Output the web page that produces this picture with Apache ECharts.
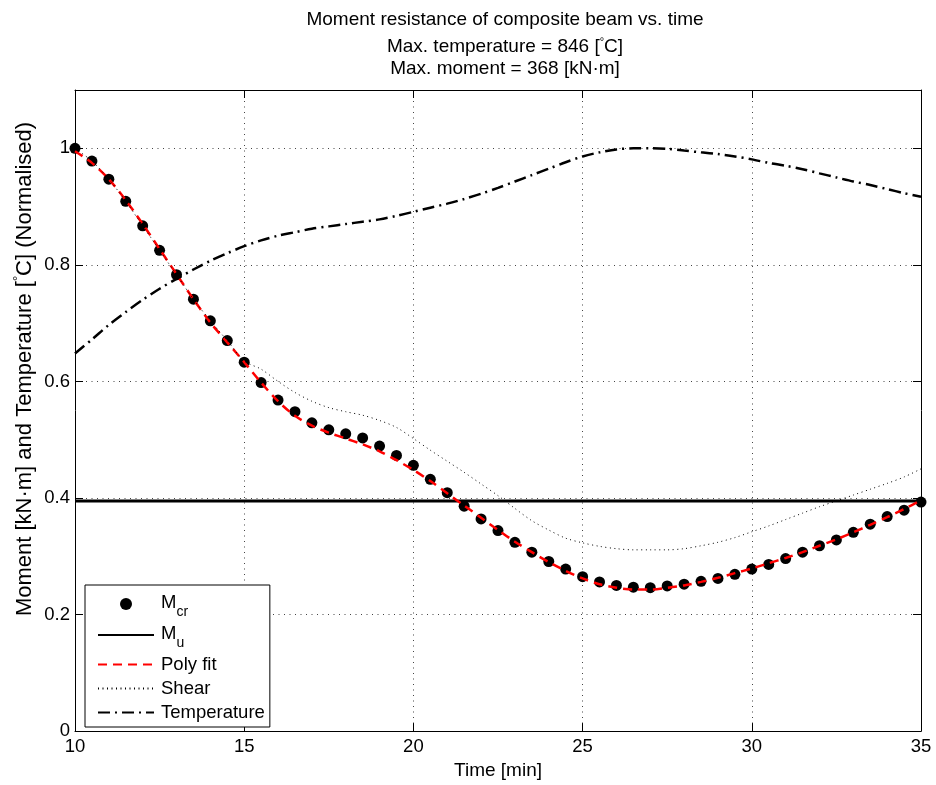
<!DOCTYPE html>
<html>
<head>
<meta charset="utf-8">
<script src="https://cdn.jsdelivr.net/npm/echarts@6/dist/echarts.min.js"></script>
<style>
  html, body { margin: 0; padding: 0; background: #fff; }
  #chart { width: 936px; height: 785px; }
</style>
</head>
<body>
<div id="chart"></div>
<script>
// time axis [min]
const time = [10, 10.5, 11, 11.5, 12, 12.5, 13, 13.5, 14, 14.5, 15, 15.5, 16, 16.5, 17, 17.5, 18, 18.5, 19, 19.5,
  20, 20.5, 21, 21.5, 22, 22.5, 23, 23.5, 24, 24.5, 25, 25.5, 26, 26.5, 27, 27.5, 28, 28.5, 29, 29.5,
  30, 30.5, 31, 31.5, 32, 32.5, 33, 33.5, 34, 34.5, 35]

// normalised critical moment (markers)
const mcr = [1.000, 0.978, 0.947, 0.909, 0.867, 0.825, 0.783, 0.741, 0.704, 0.670, 0.633, 0.598, 0.568, 0.548, 0.529, 0.517, 0.510, 0.503, 0.489, 0.473,
  0.456, 0.432, 0.409, 0.386, 0.364, 0.344, 0.324, 0.307, 0.291, 0.278, 0.265, 0.256, 0.250, 0.247, 0.246, 0.249, 0.252, 0.257, 0.262, 0.269,
  0.278, 0.286, 0.296, 0.307, 0.318, 0.328, 0.341, 0.355, 0.368, 0.379, 0.393]

// polynomial fit
const polyFit = [0.995, 0.975, 0.947, 0.911, 0.870, 0.827, 0.784, 0.741, 0.701, 0.667, 0.633, 0.598, 0.566, 0.541, 0.524, 0.512, 0.502, 0.492, 0.480, 0.465,
  0.448, 0.429, 0.408, 0.387, 0.366, 0.345, 0.325, 0.307, 0.290, 0.275, 0.262, 0.252, 0.246, 0.243, 0.243, 0.246, 0.250, 0.256, 0.263, 0.271,
  0.279, 0.288, 0.297, 0.307, 0.318, 0.329, 0.341, 0.354, 0.367, 0.381, 0.396]

// shear resistance
const shear = [1.000, 0.978, 0.947, 0.909, 0.867, 0.825, 0.783, 0.741, 0.704, 0.670, 0.635, 0.621, 0.600, 0.581, 0.566, 0.555, 0.548, 0.542, 0.533, 0.521,
  0.502, 0.482, 0.463, 0.444, 0.424, 0.404, 0.382, 0.361, 0.345, 0.331, 0.323, 0.317, 0.313, 0.311, 0.311, 0.311, 0.313, 0.318, 0.324, 0.332,
  0.342, 0.352, 0.363, 0.374, 0.385, 0.395, 0.405, 0.415, 0.425, 0.436, 0.450]

// normalised temperature
const temperature = [0.648, 0.672, 0.697, 0.719, 0.740, 0.759, 0.776, 0.792, 0.807, 0.820, 0.832, 0.842, 0.850, 0.856, 0.862, 0.866, 0.870, 0.874, 0.878, 0.884,
  0.891, 0.898, 0.905, 0.913, 0.922, 0.932, 0.943, 0.954, 0.965, 0.976, 0.986, 0.993, 0.998, 1.000, 1.000, 0.999, 0.996, 0.993, 0.990, 0.986,
  0.981, 0.975, 0.970, 0.964, 0.957, 0.950, 0.943, 0.937, 0.930, 0.923, 0.917]

// ultimate moment (horizontal line)
const muTime = [10, 35]
const muValue = [0.395, 0.395]

const FONT = 'Liberation Sans'
const FS = 18.5
const pair = (xs, ys) => xs.map((x, i) => [x, ys[i]])

const chart = echarts.init(document.getElementById('chart'))

const baseText = { fontFamily: FONT, fontSize: FS, color: '#000' }
const supStyle = { fontFamily: FONT, fontSize: 11, color: '#000', verticalAlign: 'top', lineHeight: 22 }

const axisCommon = {
  axisLine: { show: true, onZero: false, lineStyle: { color: '#000', width: 1 } },
  axisTick: { show: true, inside: true, length: 8, lineStyle: { color: '#000' } },
  axisLabel: { ...baseText, margin: 6 }
}
const gridLine = { show: true, lineStyle: { color: '#444', width: 1, type: [1, 4.5] } }
const hideSymbol = { opacity: 0 }

chart.setOption({
  animation: false,
  backgroundColor: '#fff',
  title: [
    { text: 'Moment resistance of composite beam vs. time', left: 500, top: 5, textAlign: 'center',
      textStyle: { ...baseText, fontSize: 19, fontWeight: 'normal' } },
    { text: 'Max. temperature = 846 [{sup|°}C]', left: 500, top: 31, textAlign: 'center',
      textStyle: { ...baseText, fontSize: 19, fontWeight: 'normal', rich: { sup: supStyle } } },
    { text: 'Max. moment = 368 [kN·m]', left: 500, top: 54, textAlign: 'center',
      textStyle: { ...baseText, fontSize: 19, fontWeight: 'normal' } }
  ],
  // y axis title, placed by hand as in the original figure
  graphic: [
    { type: 'text', x: 25, y: 369, rotation: Math.PI / 2,
      style: { text: 'Moment [kN·m] and Temperature [{sup|°}C] (Normalised)', fill: '#000',
        font: '22px ' + FONT, align: 'center', verticalAlign: 'middle',
        rich: { sup: { fontFamily: FONT, fontSize: 13, fill: '#000', verticalAlign: 'top', lineHeight: 26 } } } }
  ],
  grid: { left: 75, right: 15, top: 90, bottom: 52, show: false },
  legend: {
    orient: 'vertical',
    left: 85,
    top: 585,
    padding: [8, 5, 5, 12],
    itemWidth: 56,
    itemHeight: 12,
    itemGap: 5,
    backgroundColor: '#fff',
    borderColor: '#000',
    borderWidth: 1,
    borderRadius: 0,
    data: [
      { name: 'Mcr', icon: 'circle' },
      { name: 'Mu', itemStyle: hideSymbol },
      { name: 'Poly fit', itemStyle: hideSymbol },
      { name: 'Shear', itemStyle: hideSymbol },
      { name: 'Temperature', itemStyle: hideSymbol }
    ],
    formatter: name => {
      if (name === 'Mcr') return '{m|M}{sub|cr}'
      if (name === 'Mu') return '{m|M}{sub|u}'
      return name
    },
    textStyle: {
      ...baseText, padding: [0, 0, 0, 2],
      rich: {
        m: { fontFamily: FONT, fontSize: FS, color: '#000', verticalAlign: 'top', lineHeight: 22 },
        sub: { fontFamily: FONT, fontSize: 14, color: '#000', verticalAlign: 'top', lineHeight: 18, padding: [12, 0, 0, 0] }
      }
    }
  },
  xAxis: [
    { type: 'value', min: 10, max: 35, interval: 5, position: 'bottom',
      name: 'Time [min]', nameLocation: 'middle', nameGap: 29,
      nameTextStyle: { ...baseText, fontSize: 19 },
      ...axisCommon, splitLine: gridLine },
    { type: 'value', min: 10, max: 35, interval: 5, position: 'top',
      ...axisCommon, axisLabel: { show: false }, splitLine: { show: false } }
  ],
  yAxis: [
    { type: 'value', min: 0, max: 1.1, interval: 0.2, position: 'left',
      ...axisCommon,
      axisLabel: { ...baseText, margin: 5, showMaxLabel: false },
      splitLine: gridLine },
    { type: 'value', min: 0, max: 1.1, interval: 0.2, position: 'right',
      ...axisCommon, axisLabel: { show: false }, splitLine: { show: false } }
  ],
  series: [
    { name: 'Mcr', type: 'scatter', data: pair(time, mcr), symbol: 'circle', symbolSize: 11,
      itemStyle: { color: '#000', opacity: 1 } },
    { name: 'Mu', type: 'line', data: pair(muTime, muValue), showSymbol: false, symbol: 'none',
      lineStyle: { color: '#000', width: 3 }, itemStyle: { color: '#000' } },
    { name: 'Poly fit', type: 'line', data: pair(time, polyFit), showSymbol: false, symbol: 'none', smooth: 0.3,
      lineStyle: { color: '#ff0000', width: 2.5, type: [9, 6] }, itemStyle: { color: '#ff0000' } },
    { name: 'Shear', type: 'line', data: pair(time, shear), showSymbol: false, symbol: 'none', smooth: 0.3,
      lineStyle: { color: '#000', width: 1, type: [1, 3.5] }, itemStyle: { color: '#000' } },
    { name: 'Temperature', type: 'line', data: pair(time, temperature), showSymbol: false, symbol: 'none', smooth: 0.3,
      lineStyle: { color: '#000', width: 2.5, type: [12, 5, 2, 5] }, itemStyle: { color: '#000' } }
  ]
})
</script>
</body>
</html>
